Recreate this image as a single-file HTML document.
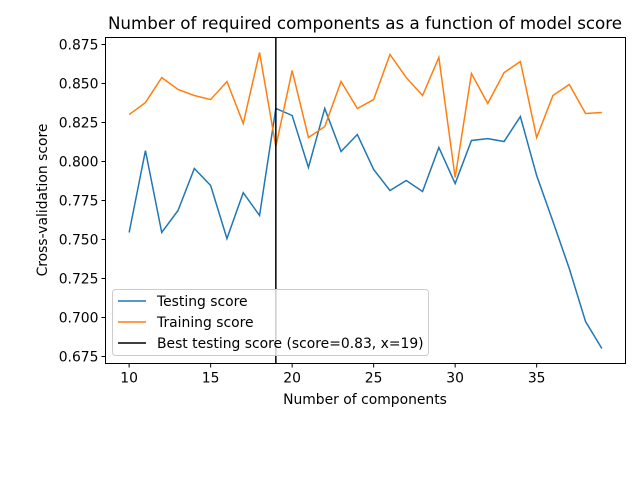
<!DOCTYPE html>
<html><head><meta charset="utf-8"><style>
body{margin:0;background:#fff;}
svg{display:block;font-family:"DejaVu Sans","Liberation Sans",sans-serif;}
</style></head><body>
<svg id="chart" width="640" height="480">
<rect width="640" height="480" fill="#fff"/>
<text x="365" y="29" font-size="16.7" text-anchor="middle">Number of required components as a function of model score</text>
<g id="plot"></g>
<rect x="105.5" y="37.5" width="520" height="326" fill="none" stroke="#000" stroke-width="1"/>
<text x="365" y="404" font-size="13.9" text-anchor="middle">Number of components</text>
<text transform="translate(47,200) rotate(-90)" font-size="13.9" text-anchor="middle">Cross-validation score</text>
<g>
<rect x="112.5" y="289.5" width="316" height="66" rx="3" fill="#fff" fill-opacity="0.8" stroke="#ccc"/>
<line x1="118" x2="146" y1="301" y2="301" stroke="#1f77b4" stroke-width="1.5"/>
<text x="157" y="306" font-size="13.9">Testing score</text>
<line x1="118" x2="146" y1="322" y2="322" stroke="#ff7f0e" stroke-width="1.5"/>
<text x="157" y="327" font-size="13.9">Training score</text>
<line x1="118" x2="146" y1="343" y2="343" stroke="#000" stroke-width="1.5"/>
<text x="157" y="348" font-size="13.9">Best testing score (score=0.83, x=19)</text>
</g>
</svg>
<script>
const components=[10,11,12,13,14,15,16,17,18,19,20,21,22,23,24,25,26,27,28,29,30,31,32,33,34,35,36,37,38,39];
const testingScores=[0.7545,0.807,0.7545,0.7686,0.7955,0.7846,0.7506,0.780,0.7654,0.834,0.8295,0.7962,0.834,0.8064,0.8173,0.7949,0.7814,0.7878,0.7808,0.809,0.7859,0.8135,0.8147,0.8128,0.8288,0.791,0.7615,0.7314,0.6974,0.6801];
const trainingScores=[0.8301,0.8378,0.8538,0.8462,0.8423,0.8397,0.8513,0.8244,0.8699,0.8096,0.8583,0.8154,0.8224,0.8513,0.834,0.8397,0.8686,0.8538,0.8423,0.8667,0.7897,0.8564,0.8372,0.857,0.8641,0.8154,0.8423,0.8494,0.8308,0.8314];
const bestX=19;
const xTicks=[10,15,20,25,30,35];
const yTicks=[0.675,0.700,0.725,0.750,0.775,0.800,0.825,0.850,0.875];
const NS="http://www.w3.org/2000/svg";
const L=105.5,R=625.5,T=37.5,B=363.5;
const x0=8.55,x1=40.45,y0=0.6705,y1=0.8795;
function sx(v){return L+(v-x0)/(x1-x0)*(R-L);}
function sy(v){return B-(v-y0)/(y1-y0)*(B-T);}
const g=document.getElementById('plot');
function mk(t,a){const e=document.createElementNS(NS,t);for(const k in a)e.setAttribute(k,a[k]);g.appendChild(e);return e;}
xTicks.forEach(v=>{
 const t=mk('line',{x1:sx(v),x2:sx(v),y1:B,y2:B+4,stroke:'#000'});
 
 
 const l=mk('text',{x:sx(v),y:B+19,'font-size':13.9,'text-anchor':'middle'});l.textContent=v;
 
 
});
yTicks.forEach(v=>{
 const t=mk('line',{x1:L-4,x2:L,y1:sy(v),y2:sy(v),stroke:'#000'});
 
 
 const l=mk('text',{x:L-7,y:sy(v)+5,'font-size':13.9,'text-anchor':'end'});l.textContent=v.toFixed(3);
 
 
});
function line(vals,color,name){
 const p=mk('polyline',{points:components.map((c,i)=>sx(c)+','+sy(vals[i])).join(' '),fill:'none',stroke:color,'stroke-width':1.5});
 
 
}
line(testingScores,'#1f77b4','testing-score-line');
line(trainingScores,'#ff7f0e','training-score-line');
const v=mk('line',{x1:sx(bestX),x2:sx(bestX),y1:T,y2:B,stroke:'#000','stroke-width':1.5});


</script>
</body></html>
